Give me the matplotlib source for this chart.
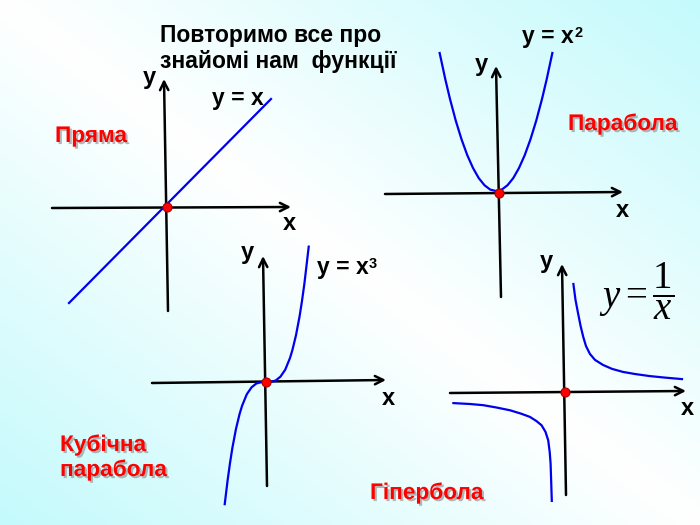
import numpy as np
import matplotlib
matplotlib.use('Agg')
import matplotlib.pyplot as plt
import matplotlib.patheffects as pe
from matplotlib.transforms import Affine2D

plt.rcParams['font.family'] = ['Liberation Sans', 'DejaVu Sans']
plt.rcParams['mathtext.fontset'] = 'custom'
plt.rcParams['mathtext.rm'] = 'Liberation Serif'
plt.rcParams['mathtext.it'] = 'Liberation Serif:italic'

# curve samples, each in its own panel units
line_x = [-2.45, 2.6]
line_y = [-2.4, 2.7]

parab_x = [-2.45, -2.2, -2.0, -1.75, -1.5, -1.25, -1.0, -0.75, -0.5, -0.25, 0,
           0.25, 0.5, 0.75, 1.0, 1.25, 1.5, 1.75, 2.0, 2.2, 2.45]
parab_y = [6.0, 4.84, 4.0, 3.06, 2.25, 1.56, 1.0, 0.56, 0.25, 0.06, 0,
           0.06, 0.25, 0.56, 1.0, 1.56, 2.25, 3.06, 4.0, 4.84, 6.0]

cubic_x = [-1.72, -1.6, -1.5, -1.4, -1.25, -1.1, -1.0, -0.8, -0.6, -0.4, -0.2, 0,
           0.2, 0.4, 0.6, 0.8, 1.0, 1.1, 1.25, 1.4, 1.5, 1.6, 1.78]
cubic_y = [-5.09, -4.1, -3.38, -2.74, -1.95, -1.33, -1.0, -0.51, -0.22, -0.06, -0.01, 0,
           0.01, 0.06, 0.22, 0.51, 1.0, 1.33, 1.95, 2.74, 3.38, 4.1, 5.64]

hyp_right_x = [0.28, 0.35, 0.44, 0.52, 0.61, 0.7, 0.83, 1.0, 1.27, 1.57, 1.93, 2.33, 2.83, 3.33, 3.9]
hyp_right_y = [3.6, 3.07, 2.6, 2.2, 1.83, 1.53, 1.27, 1.07, 0.9, 0.77, 0.67, 0.6, 0.53, 0.48, 0.43]
hyp_left_x = [-3.72, -3.17, -2.72, -2.27, -1.83, -1.47, -1.17, -0.95, -0.78, -0.65, -0.56, -0.51, -0.48, -0.46, -0.44]
hyp_left_y = [-0.37, -0.4, -0.44, -0.52, -0.61, -0.72, -0.83, -0.97, -1.11, -1.33, -1.61, -2.0, -2.39, -3.0, -3.63]

title = ['Повторимо все про', 'знайомі нам  функції']
names = ['Пряма', 'Парабола', 'Кубічна', 'парабола', 'Гіпербола']

fig = plt.figure(figsize=(7, 5.25), dpi=100)
ax = fig.add_axes([0, 0, 1, 1])
ax.set_xlim(0, 700)
ax.set_ylim(525, 0)
ax.axis('off')

# background: cyan in top-right / bottom-left corners, white across the middle
gx, gy = np.meshgrid(np.linspace(0, 1, 350), np.linspace(0, 1, 263))
s = np.abs(gx + (1 - gy) - 1)
cyan = np.array([196, 250, 252]) / 255.0
img = 1 - s[..., None] * (1 - cyan)
ax.imshow(img, extent=[0, 700, 525, 0], aspect='auto', zorder=0)


def arrow(tail, tip):
    ax.annotate('', xy=tip, xytext=tail,
                arrowprops=dict(arrowstyle='->', lw=1.8, color='black',
                                mutation_scale=15, shrinkA=0, shrinkB=0))


def panel_tr(ox, oy, unit):
    return Affine2D().scale(unit, -unit).translate(ox, oy) + ax.transData


blue = dict(color='#0000ee', lw=1.6, solid_joinstyle='round', zorder=3)

# panel 1: straight line
arrow((52, 208), (291, 207))
arrow((168, 311), (164, 79))
ax.plot(line_x, line_y, transform=panel_tr(167, 207, 40), **blue)

# panel 2: parabola
arrow((385, 194), (623, 192))
arrow((501, 297), (496, 66))
ax.plot(parab_x, parab_y, transform=panel_tr(496, 191, 23), **blue)

# panel 3: cubic
arrow((152, 383), (386, 380))
arrow((267, 486), (263, 256))
ax.plot(cubic_x, cubic_y, transform=panel_tr(266, 382, 24), **blue)

# panel 4: hyperbola
arrow((450, 393), (686, 391))
arrow((566, 495), (562, 264))
tr4 = panel_tr(565, 392, 30)
ax.plot(hyp_right_x, hyp_right_y, transform=tr4, **blue)
ax.plot(hyp_left_x, hyp_left_y, transform=tr4, **blue)

# origin dots
for px, py in [(167, 207), (499, 193), (266, 382), (565, 392)]:
    ax.plot(px, py, 'o', ms=6.5, mfc='red', mec='#aa0000', mew=0.8, zorder=5)

# axis names
lab = dict(fontsize=17, fontweight='bold', color='black', va='baseline', ha='center')
for t, px, py in [('y', 149, 84), ('x', 289, 230), ('y', 481, 71), ('x', 622, 217),
                  ('y', 247, 259), ('x', 388, 405), ('y', 546, 268), ('x', 687, 415)]:
    ax.text(px, py, t, **lab)

# formulas
fm = dict(fontsize=16.5, fontweight='bold', color='black', va='baseline', ha='left')
ax.text(212, 105, 'y = x', **fm)
for txt, px, py in [('2', 522, 43), ('3', 317, 274)]:
    base = ax.text(px, py, 'y = x', **fm)
    ax.annotate(txt, xy=(1, 0), xycoords=base, xytext=(0.3, 8), textcoords='offset points',
                fontsize=10.5, fontweight='bold', va='baseline', ha='left')
ax.text(599, 291, r'$y=\dfrac{1}{x}$', fontsize=28, va='center', ha='left')

# title
ax.text(160, 42, title[0], fontsize=16.5, fontweight='bold', va='baseline', ha='left')
ax.text(160, 68, title[1], fontsize=16.5, fontweight='bold', va='baseline', ha='left')

# red names with shadow
shadow = [pe.withSimplePatchShadow(offset=(1.5, -1.5), shadow_rgbFace='#888888', alpha=0.6)]
rd = dict(fontsize=16.3, fontweight='bold', color='#ff0000', va='baseline', ha='left',
          path_effects=shadow)
ax.text(55, 142, names[0], **rd)
ax.text(568, 130, names[1], **rd)
ax.text(60, 451, names[2], **rd)
ax.text(60, 476, names[3], **rd)
ax.text(370, 499, names[4], **rd)

fig.savefig('out.png', dpi=100)
